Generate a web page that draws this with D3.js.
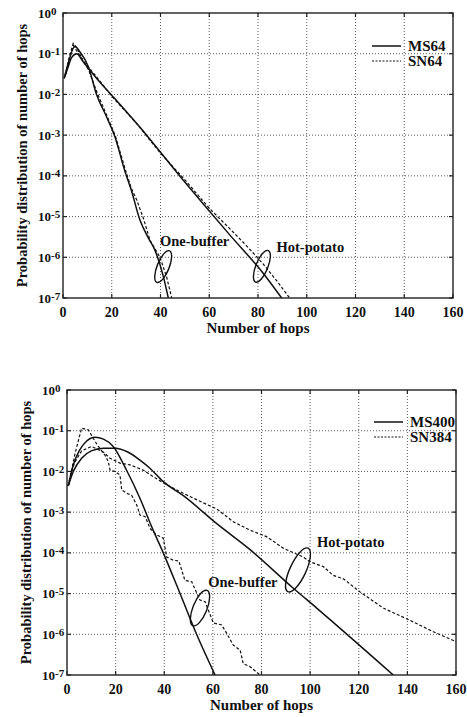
<!DOCTYPE html>
<html>
<head>
<meta charset="utf-8">
<script src="https://cdn.jsdelivr.net/npm/d3@7"></script>
<style>
  body { margin: 0; background: #fff; }
  svg { display: block; }
  text { font-family: "Liberation Serif", "Times New Roman", serif; font-weight: bold; fill: #111; }
</style>
</head>
<body>
<svg id="chart" width="467" height="717"></svg>
<script>
// ---- axis ticks ----
const hopTicks = [0, 20, 40, 60, 80, 100, 120, 140, 160];
const decadeExponents = [0, -1, -2, -3, -4, -5, -6, -7];

// ---- upper panel: 64-node networks ----
const msHotPotato64Hops = [0.5, 2, 3.5, 5.6, 8.3, 14, 20.6, 34.3, 48.5, 58, 68.5, 82.2, 89.7];
const msHotPotato64Prob = [2.5e-2, 4.5e-2, 8e-2, 1.0e-1, 6.3e-2, 2.4e-2, 8.7e-3, 1.0e-3, 9e-5, 1.9e-5, 3.5e-6, 4.0e-7, 1.0e-7];

const snHotPotato64Hops = [1, 2.5, 4.2, 6, 8.5, 14, 20, 30, 40, 45, 50, 60, 68.5, 75, 82, 88, 93];
const snHotPotato64Prob = [3e-2, 7e-2, 1.6e-1, 1.1e-1, 6.5e-2, 2.6e-2, 9e-3, 2.0e-3, 3.6e-4, 1.7e-4, 8e-5, 1.6e-5, 5e-6, 2e-6, 7e-7, 2.5e-7, 1e-7];

const msOneBuffer64Hops = [0.5, 2, 4.9, 7, 10.4, 13.8, 17.9, 21.3, 25.4, 28, 31.6, 35, 37.7, 41.1, 43.2];
const msOneBuffer64Prob = [2.5e-2, 5.5e-2, 1.5e-1, 1.1e-1, 4.8e-2, 9.8e-3, 2.8e-3, 9.1e-4, 1.3e-4, 4.5e-5, 8.1e-6, 3e-6, 1.5e-6, 3.5e-7, 1e-7];

const snOneBuffer64Hops = [1, 2.5, 4.2, 6, 8, 10.5, 14, 18, 21.5, 25.6, 28, 30.2, 33, 35.7, 39.8, 42.5, 44.6];
const snOneBuffer64Prob = [3e-2, 8e-2, 1.8e-1, 1.3e-1, 7e-2, 4e-2, 1.1e-2, 3e-3, 9.5e-4, 1.4e-4, 5e-5, 2.6e-5, 9e-6, 2.6e-6, 1.0e-6, 3.3e-7, 1e-7];

// ---- lower panel: MS400 / SN384 ----
const msHotPotato400Hops = [0.5, 2.6, 6, 10, 15, 19.7, 25, 30, 34.1, 39.6, 48, 61.6, 75.3, 93.1, 102.7, 134.2];
const msHotPotato400Prob = [4.4e-3, 1e-2, 2.1e-2, 3.2e-2, 3.7e-2, 3.7e-2, 3e-2, 1.9e-2, 1.2e-2, 5.6e-3, 2.5e-3, 5.2e-4, 1.2e-4, 1.35e-5, 4.4e-6, 1e-7];

const msOneBuffer400Hops = [0.5, 2.6, 5, 8, 11.5, 15, 19, 24.5, 30, 34.8, 39.6, 46.5, 53.3, 60.9];
const msOneBuffer400Prob = [4.4e-3, 1.45e-2, 3.2e-2, 5.5e-2, 6.9e-2, 6.2e-2, 4.1e-2, 1.07e-2, 2.2e-3, 4.4e-4, 1e-4, 1e-5, 1e-6, 1e-7];

const snHotPotato384Hops = [0.5, 3, 6, 10.1, 14.9, 17.7, 21.8, 25.9, 31.4, 35.5, 41, 47.8, 56, 61.6, 68.4, 75.3, 82.1, 89, 97.2, 100, 105.4, 109.5, 113.7, 120.5, 130.1, 141.1, 150.7, 160];
const snHotPotato384Prob = [4.4e-3, 1.6e-2, 3.2e-2, 4.1e-2, 3e-2, 2.1e-2, 1.6e-2, 1.45e-2, 1.07e-2, 7.4e-3, 4.7e-3, 2.9e-3, 1.7e-3, 1.2e-3, 5.8e-4, 3.6e-4, 2.5e-4, 1.3e-4, 7.9e-5, 6e-5, 4.6e-5, 2.8e-5, 2.3e-5, 1.1e-5, 4.4e-6, 2.2e-6, 1.15e-6, 6.6e-7];

const snOneBuffer384Hops = [0.5, 3.3, 6, 8.8, 10.8, 12.9, 15.6, 17, 17.7, 19.7, 21.8, 22.5, 24.6, 26.6, 28.7, 30, 32.1, 33.4, 34.1, 36.9, 39.6, 41, 43.7, 46, 48.5, 51.3, 54.7, 56.8, 60.2, 63.6, 65.7, 68.4, 71.2, 72.5, 75.3, 79.4];
const snOneBuffer384Prob = [4.4e-3, 2.75e-2, 1.15e-1, 1.05e-1, 6.5e-2, 4.1e-2, 2.5e-2, 1.75e-2, 1.07e-2, 1e-2, 8.1e-3, 3.5e-3, 2.9e-3, 2.6e-3, 1.5e-3, 8.5e-4, 7.8e-4, 5.2e-4, 4e-4, 2.75e-4, 2.3e-4, 7.9e-5, 6.6e-5, 6.3e-5, 2.1e-5, 1.95e-5, 6.9e-6, 6.3e-6, 1.9e-6, 1.7e-6, 1.05e-6, 5.4e-7, 4.1e-7, 1.9e-7, 1.6e-7, 1e-7];

const zip = (hops, probs) => hops.map((h, i) => ({ hop: h, p: probs[i] }));

const panels = [
  {
    box: { left: 63, top: 13, right: 453, bottom: 298 },
    yTitleX: 27,
    legend: ["MS64", "SN64"],
    legendX: 372, legendY: 46,
    series: [
      { data: zip(msHotPotato64Hops, msHotPotato64Prob), dashed: false },
      { data: zip(msOneBuffer64Hops, msOneBuffer64Prob), dashed: false },
      { data: zip(snHotPotato64Hops, snHotPotato64Prob), dashed: true },
      { data: zip(snOneBuffer64Hops, snOneBuffer64Prob), dashed: true }
    ],
    notes: [
      { text: "One-buffer", hop: 39.8, p: 1.9e-6, loopHop: 41.1, loopP: 5.9e-7, rx: 6, ry: 17, rot: 22 },
      { text: "Hot-potato", hop: 87.6, p: 1.35e-6, loopHop: 81.6, loopP: 6.0e-7, rx: 6, ry: 17, rot: 22 }
    ]
  },
  {
    box: { left: 67, top: 390, right: 456, bottom: 675 },
    yTitleX: 31,
    legend: ["MS400", "SN384"],
    legendX: 374, legendY: 422,
    series: [
      { data: zip(msHotPotato400Hops, msHotPotato400Prob), dashed: false },
      { data: zip(msOneBuffer400Hops, msOneBuffer400Prob), dashed: false },
      { data: zip(snHotPotato384Hops, snHotPotato384Prob), dashed: true },
      { data: zip(snOneBuffer384Hops, snOneBuffer384Prob), dashed: true }
    ],
    notes: [
      { text: "Hot-potato", hop: 102.8, p: 1.38e-4, loopHop: 95, loopP: 3.8e-5, rx: 8, ry: 24, rot: 25 },
      { text: "One-buffer", hop: 58.1, p: 1.45e-5, loopHop: 54.7, loopP: 4.4e-6, rx: 7, ry: 19, rot: 22 }
    ]
  }
];

const svg = d3.select("#chart");

panels.forEach((panel, idx) => {
  const b = panel.box;
  const x = d3.scaleLinear().domain([0, 160]).range([b.left, b.right]);
  const y = d3.scaleLog().domain([1e-7, 1]).range([b.bottom, b.top]);
  const g = svg.append("g");

  const clipId = "clip" + idx;
  g.append("clipPath").attr("id", clipId)
    .append("rect").attr("x", b.left).attr("y", b.top)
    .attr("width", b.right - b.left).attr("height", b.bottom - b.top);

  // dotted grid
  const grid = g.append("g").attr("stroke", "#333").attr("stroke-width", 0.8)
    .attr("stroke-dasharray", "1,2").attr("fill", "none");
  hopTicks.filter(t => t > 0 && t < 160).forEach(t => {
    grid.append("line").attr("x1", x(t)).attr("x2", x(t)).attr("y1", b.top).attr("y2", b.bottom);
  });
  decadeExponents.filter(e => e < 0 && e > -7).forEach(e => {
    grid.append("line").attr("x1", b.left).attr("x2", b.right).attr("y1", y(Math.pow(10, e))).attr("y2", y(Math.pow(10, e)));
  });

  // frame
  g.append("rect").attr("x", b.left).attr("y", b.top)
    .attr("width", b.right - b.left).attr("height", b.bottom - b.top)
    .attr("fill", "none").attr("stroke", "#222").attr("stroke-width", 1.4);

  // inward ticks on all four sides
  const ticks = g.append("g").attr("stroke", "#222").attr("stroke-width", 1.2);
  decadeExponents.forEach(e => {
    const yy = y(Math.pow(10, e));
    ticks.append("line").attr("x1", b.left).attr("x2", b.left + 4).attr("y1", yy).attr("y2", yy);
    ticks.append("line").attr("x1", b.right - 4).attr("x2", b.right).attr("y1", yy).attr("y2", yy);
  });
  hopTicks.forEach(t => {
    ticks.append("line").attr("x1", x(t)).attr("x2", x(t)).attr("y1", b.bottom).attr("y2", b.bottom - 4);
    ticks.append("line").attr("x1", x(t)).attr("x2", x(t)).attr("y1", b.top).attr("y2", b.top + 4);
  });

  // y tick labels 10^e
  decadeExponents.forEach(e => {
    const t = g.append("text").attr("x", b.left - 25).attr("y", y(Math.pow(10, e)) + 4.5)
      .attr("font-size", 13);
    t.append("tspan").text("10");
    t.append("tspan").attr("font-size", 11).attr("dy", -3).text(String(e));
  });

  // x tick labels
  hopTicks.forEach(t => {
    g.append("text").attr("x", x(t)).attr("y", b.bottom + 19)
      .attr("text-anchor", "middle").attr("font-size", 14).text(t);
  });

  // axis titles
  g.append("text").attr("x", (b.left + b.right) / 2).attr("y", b.bottom + 35)
    .attr("text-anchor", "middle").attr("font-size", 15).text("Number of hops");
  g.append("text")
    .attr("transform", `translate(${panel.yTitleX},${(b.top + b.bottom) / 2}) rotate(-90)`)
    .attr("text-anchor", "middle").attr("font-size", 14.5)
    .text("Probability distribution of number of hops");

  // curves
  const solidLine = d3.line().x(d => x(d.hop)).y(d => y(d.p)).curve(d3.curveMonotoneX);
  const stepLine = d3.line().x(d => x(d.hop)).y(d => y(d.p)).curve(d3.curveLinear);
  const curves = g.append("g").attr("clip-path", `url(#${clipId})`);
  panel.series.forEach(s => {
    curves.append("path").datum(s.data)
      .attr("d", s.dashed ? stepLine : solidLine)
      .attr("fill", "none").attr("stroke", "#111")
      .attr("stroke-width", s.dashed ? 1.2 : 1.5)
      .attr("stroke-dasharray", s.dashed ? "3,2" : null);
  });

  // annotations with lasso loops
  panel.notes.forEach(n => {
    g.append("text").attr("x", x(n.hop)).attr("y", y(n.p)).attr("font-size", 14.5).text(n.text);
    g.append("ellipse")
      .attr("transform", `translate(${x(n.loopHop)},${y(n.loopP)}) rotate(${n.rot})`)
      .attr("rx", n.rx).attr("ry", n.ry)
      .attr("fill", "none").attr("stroke", "#111").attr("stroke-width", 1.4);
  });

  // legend
  panel.legend.forEach((name, i) => {
    const ly = panel.legendY + i * 15;
    g.append("line").attr("x1", panel.legendX).attr("x2", panel.legendX + 29)
      .attr("y1", ly).attr("y2", ly).attr("stroke", "#111")
      .attr("stroke-width", i === 0 ? 1.5 : 1.2)
      .attr("stroke-dasharray", i === 0 ? null : "2,1.5");
    g.append("text").attr("x", panel.legendX + 36).attr("y", ly + 5)
      .attr("font-size", 15).text(name);
  });
});
</script>
</body>
</html>
